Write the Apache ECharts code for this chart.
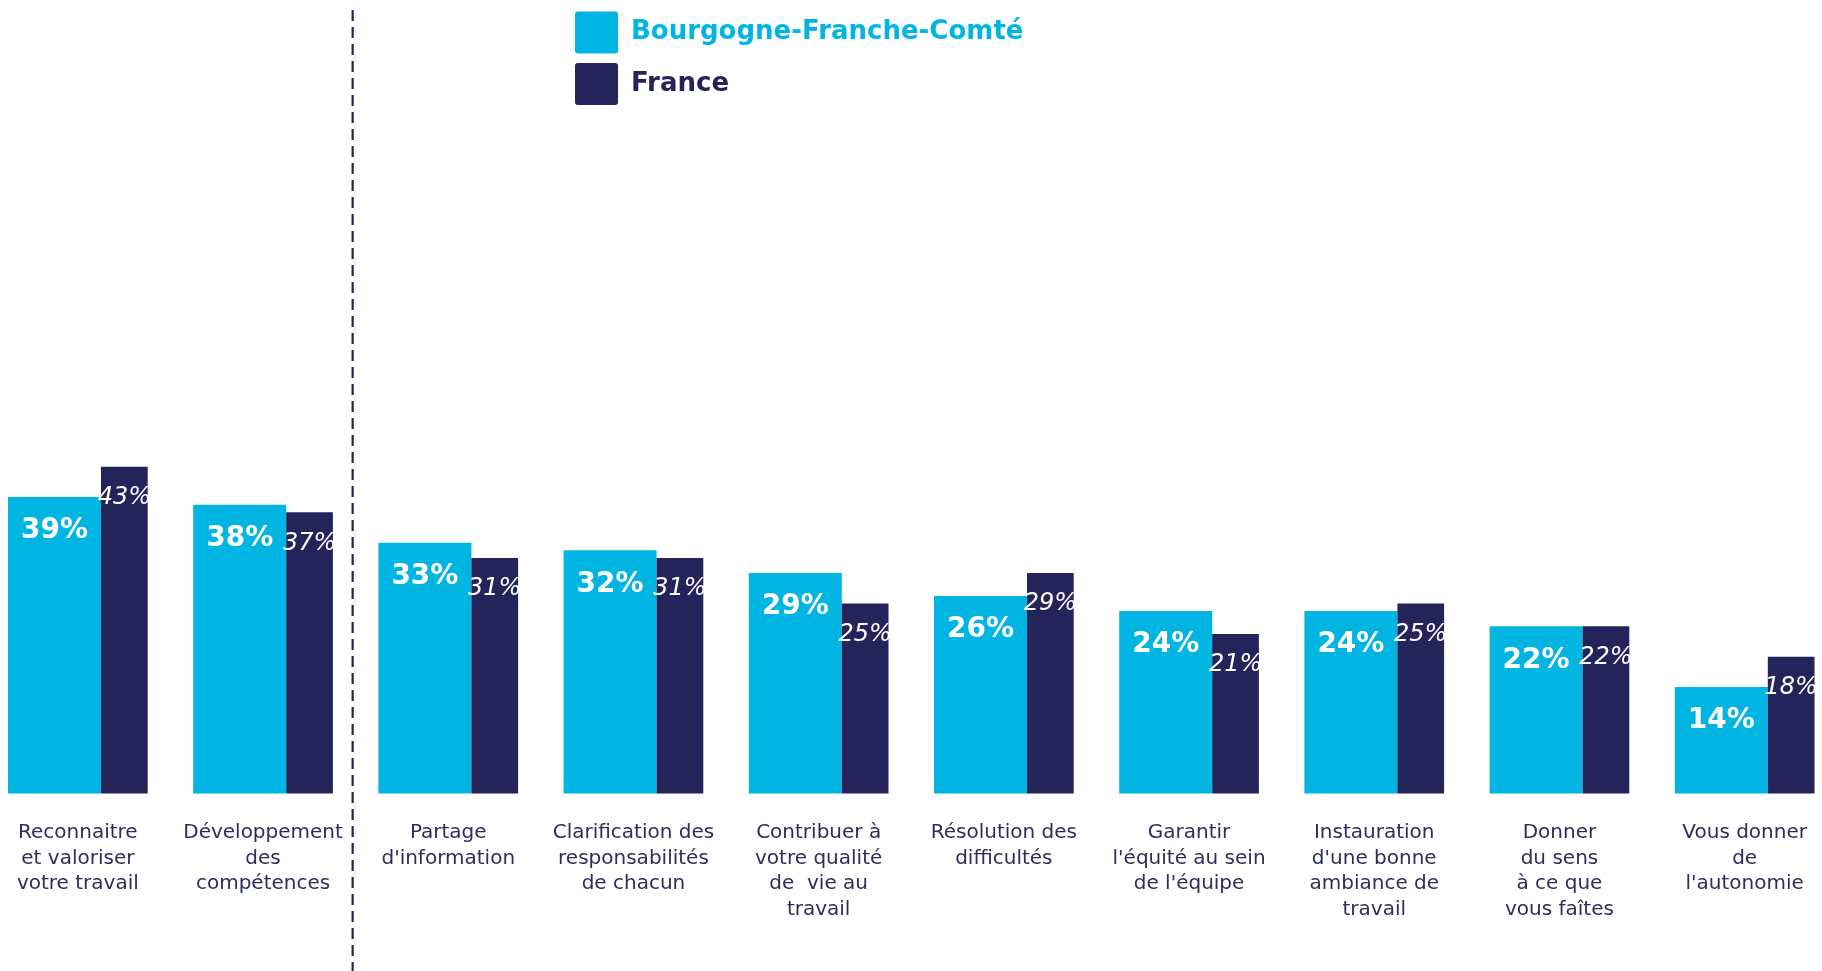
<!DOCTYPE html>
<html>
<head>
<meta charset="utf-8">
<style>
  html, body { margin: 0; padding: 0; background: #ffffff; }
  #chart { width: 1822px; height: 971px; }
</style>
<script src="https://cdn.jsdelivr.net/npm/echarts@6/dist/echarts.min.js"></script>
</head>
<body>
<div id="chart"></div>
<script>
// Leviers de management cités : région vs France (en %)
const categories = [
  "Reconnaitre\net valoriser\nvotre travail",
  "Développement\ndes\ncompétences",
  "Partage\nd'information",
  "Clarification des\nresponsabilités\nde chacun",
  "Contribuer à\nvotre qualité\nde  vie au\ntravail",
  "Résolution des\ndifficultés",
  "Garantir\nl'équité au sein\nde l'équipe",
  "Instauration\nd'une bonne\nambiance de\ntravail",
  "Donner\ndu sens\nà ce que\nvous faîtes",
  "Vous donner\nde\nl'autonomie"
];
const regionName = "Bourgogne-Franche-Comté";
const franceName = "France";
const regionValues = [39, 38, 33, 32, 29, 26, 24, 24, 22, 14];
const franceValues = [43, 37, 31, 31, 25, 29, 21, 25, 22, 18];

const CYAN = "#00B5E2";
const NAVY = "#24235A";
const TEXT = "#2E2E5E";
const FONT = "DejaVu Sans";

// square swatch with lightly rounded corners
const SWATCH = "path://M3,0H40Q43,0 43,3V39Q43,42 40,42H3Q0,42 0,39V3Q0,0 3,0Z";

const chart = echarts.init(document.getElementById("chart"));

chart.setOption({
  animation: false,
  backgroundColor: "#ffffff",
  grid: {
    left: -14.75, right: -15.25, top: 33.5, bottom: 177.5,
    containLabel: false,
    outerBoundsMode: "none"
  },
  legend: {
    orient: "vertical",
    left: 575,
    top: 11.5,
    padding: 0,
    itemWidth: 43,
    itemHeight: 42,
    itemGap: 9.5,
    icon: SWATCH,
    selectedMode: false,
    textStyle: { fontFamily: FONT, fontSize: 26, fontWeight: "bold", padding: [0, 0, 0, 8] },
    data: [
      { name: regionName, textStyle: { color: CYAN } },
      { name: franceName, textStyle: { color: NAVY } }
    ]
  },
  xAxis: {
    type: "category",
    data: categories,
    axisLine: { show: false },
    axisTick: { show: false },
    axisLabel: {
      interval: 0,
      margin: 27,
      color: TEXT,
      fontFamily: FONT,
      fontSize: 20,
      lineHeight: 25.5,
      align: "center",
      verticalAlign: "top"
    }
  },
  yAxis: {
    type: "value",
    min: 0,
    max: 100,
    show: false,
    splitLine: { show: false }
  },
  series: [
    {
      name: regionName,
      type: "bar",
      data: regionValues,
      barWidth: 93,
      barGap: "0%",
      itemStyle: { color: CYAN },
      label: {
        show: true,
        position: "insideTop",
        distance: 20,
        formatter: "{c}%",
        color: "#ffffff",
        fontFamily: FONT,
        fontSize: 28,
        fontWeight: "bold"
      }
    },
    {
      name: franceName,
      type: "bar",
      data: franceValues,
      barWidth: 46.7,
      barGap: "0%",
      itemStyle: { color: NAVY },
      label: {
        show: true,
        position: "insideTop",
        distance: 19,
        formatter: "{c}%",
        color: "#ffffff",
        fontFamily: FONT,
        fontSize: 24,
        fontStyle: "italic",
        fontWeight: "lighter"
      }
    }
  ]
});

// Dashed separator between the first two items and the rest
const xA = chart.convertToPixel({ xAxisIndex: 0 }, categories[1]);
const xB = chart.convertToPixel({ xAxisIndex: 0 }, categories[2]);
const sepX = (xA + xB) / 2 - 3;
chart.setOption({
  graphic: [{
    type: "line",
    shape: { x1: sepX, y1: 10, x2: sepX, y2: 971 },
    style: { stroke: NAVY, lineWidth: 2.2, lineDash: [11, 6] },
    silent: true
  }]
});
</script>
</body>
</html>
